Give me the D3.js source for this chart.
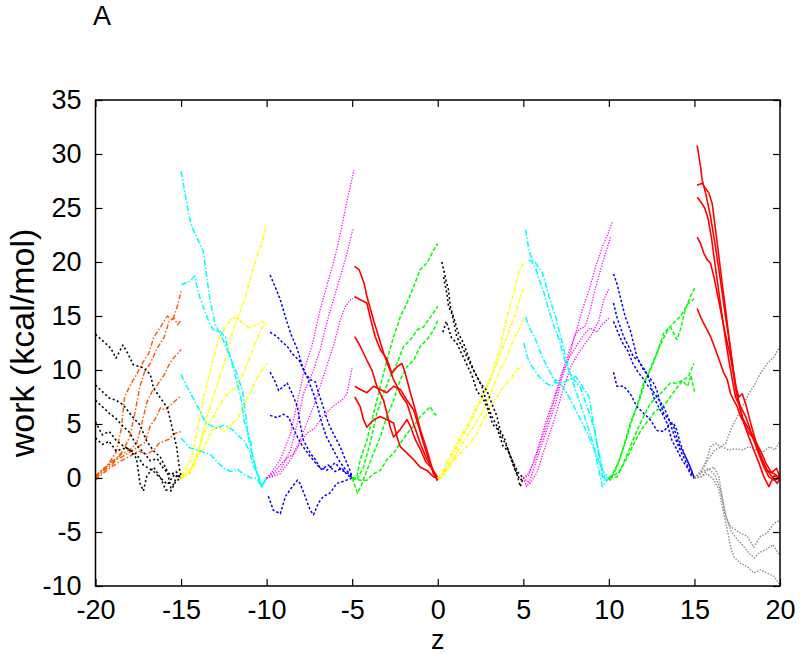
<!DOCTYPE html>
<html><head><meta charset="utf-8">
<script src="https://cdn.jsdelivr.net/npm/d3@7"></script>
<style>
body{margin:0;background:#fff}
svg{display:block}
text{font-family:"Liberation Sans",Arial,Helvetica,sans-serif;fill:#000}
</style>
</head><body>
<svg id="chart" width="800" height="654"></svg>
<script>
// ---------- labels / ticks ----------
const panelLabel = "A";
const xLabel = "z";
const yLabel = "work (kcal/mol)";
const xTicks = [-20,-15,-10,-5,0,5,10,15,20];
const yTicks = [-10,-5,0,5,10,15,20,25,30,35];

// ---------- data: each run is a list of [z, work] ----------
// window [-20,-15]
const orangeRuns = [
 [[-20,0],[-19.6,0.6],[-19.2,1.4],[-18.8,2.4],[-18.5,4.5],[-18.3,7.5],[-18,8.5],[-17.6,9.6],[-17.2,10.8],[-16.9,11.5],[-16.6,13],[-16.2,14],[-15.8,15],[-15.5,14.6],[-15.2,16],[-15,17.3]],
 [[-20,0.2],[-19.6,0.8],[-19.2,1.2],[-18.8,1.8],[-18.4,2.5],[-18,3.8],[-17.7,6],[-17.4,8.5],[-17.1,10],[-16.8,10.6],[-16.4,12],[-16,13],[-15.7,14.5],[-15.4,14.8],[-15.2,14.2],[-15,14.6]],
 [[-20,0],[-19.5,0.7],[-19,1.3],[-18.5,2.2],[-18,2.6],[-17.6,3.2],[-17.3,5],[-17,7],[-16.7,8],[-16.4,8.6],[-16,9.5],[-15.7,10.5],[-15.4,11.2],[-15.2,11.5],[-15,11.9]],
 [[-20,0.1],[-19.5,0.9],[-19,1.6],[-18.5,1.9],[-18,2.4],[-17.5,2.9],[-17.1,3.3],[-16.8,4.8],[-16.5,5.5],[-16.2,6.5],[-15.9,6.3],[-15.6,6.8],[-15.3,7.2],[-15,7.6]],
 [[-20,-0.2],[-19.5,0.5],[-19,1.1],[-18.5,1.6],[-18,2],[-17.5,2.5],[-17,2.2],[-16.6,2.6],[-16.3,3.2],[-16,3.4],[-15.7,3.6],[-15.4,4.1],[-15,4.3]]
];
const blackRunsA = [
 [[-20,13.3],[-19.5,12.6],[-19.1,12],[-18.8,11.1],[-18.4,12.3],[-18.1,11.5],[-17.8,10.5],[-17.2,10.2],[-16.8,9.6],[-16.6,8.3],[-16.2,7.4],[-15.8,6.5],[-15.6,5.2],[-15.25,2.8],[-15.1,0.9],[-15,0.2]],
 [[-20,8.6],[-19.6,8.0],[-19.2,7.4],[-18.8,7.2],[-18.4,6.8],[-17.8,5.6],[-17.4,4.9],[-17,3.4],[-16.6,2.5],[-16.2,1.9],[-15.8,0.6],[-15.6,-0.9],[-15.4,-0.5],[-15.25,0.3],[-15,0]],
 [[-20,7.2],[-19.6,6.6],[-19.2,6],[-18.8,5.5],[-18.4,4.8],[-18,4.2],[-17.6,3],[-17.2,2.4],[-16.8,1.6],[-16.4,1.8],[-16,0.8],[-15.6,0.3],[-15.3,0.6],[-15,0]],
 [[-20,5.2],[-19.6,4],[-19.2,4.3],[-18.8,3.5],[-18.4,3.0],[-18,2.6],[-17.6,1.8],[-17.4,-0.5],[-17.2,-1.2],[-17,0.2],[-16.6,1],[-16.2,0],[-15.8,-0.6],[-15.4,0.3],[-15,0]],
 [[-20,3.7],[-19.6,3.1],[-19.2,3.4],[-18.8,2.5],[-18.2,2.8],[-17.6,2.2],[-17.2,1.2],[-16.6,0.6],[-16.2,0],[-15.9,-1.1],[-15.6,-1.2],[-15.3,-0.3],[-15,0]]
];
// window [-15,-10]
const cyanRunsA = [
 [[-15,28.4],[-14.5,24],[-14.3,23],[-13.7,21],[-13.4,17.5],[-13.3,16.4],[-13,14.2],[-12.6,13],[-12.1,11.1],[-11.7,9.5],[-11.4,8],[-11.2,5.6],[-11.1,4],[-10.9,2.5],[-10.6,0.6],[-10.3,-0.8],[-10,0]],
 [[-15,17.9],[-14.5,18.2],[-14.2,18.7],[-14.1,17.9],[-13.9,16.7],[-13.6,15.4],[-13.3,14.2],[-13.1,13.7],[-12.7,13.6],[-12.4,13],[-12.3,12.1],[-12.1,11.1],[-11.9,9.9],[-11.7,8.6],[-11.5,7.4],[-11.3,5.2],[-11.1,4.3],[-10.9,3.1],[-10.8,1.9],[-10.5,0.3],[-10.3,-0.8],[-10,0]],
 [[-15,9.6],[-14.7,8.6],[-14.3,7.4],[-13.9,6.2],[-13.6,5.2],[-13.3,4.9],[-12.9,4.6],[-12.5,4.9],[-12.1,4.6],[-11.7,4],[-11.3,3.4],[-11,2.5],[-10.8,1.2],[-10.5,0.3],[-10.3,-0.8],[-10,0]],
 [[-15,3.7],[-14.5,2.8],[-13.9,2.5],[-13.3,2.2],[-12.9,1.5],[-12.5,0.9],[-12.1,0.6],[-11.7,0.8],[-11.3,0.3],[-10.9,0],[-10.6,0],[-10.3,-0.8],[-10,0]]
];
const yellowRunsA = [
 [[-15,0],[-14.5,0.4],[-14.1,1.6],[-13.9,3],[-13.7,4.4],[-13.5,5.6],[-13.2,7.1],[-12.9,8.6],[-12.5,10.5],[-12.2,12.3],[-11.9,14],[-11.6,15.2],[-11.3,16.4],[-10.9,18.8],[-10.6,20.4],[-10.3,21.6],[-10.1,22.8],[-10,23.6]],
 [[-15,0],[-14.4,1.8],[-14,4.9],[-13.6,8],[-13.2,10.5],[-12.8,12.9],[-12.3,14.2],[-12,14.8],[-11.7,14.9],[-11.4,14.3],[-11,13.9],[-10.6,14.2],[-10.3,14.5],[-10,14.2]],
 [[-15,0.1],[-14.4,0.9],[-14,2.5],[-13.7,4],[-13.3,5.2],[-12.9,6.3],[-12.5,7.4],[-12.1,8],[-11.7,8.6],[-11.3,9.9],[-10.9,11.5],[-10.6,12.7],[-10.3,13.9],[-10,14.1]],
 [[-15,-0.1],[-14.5,0.6],[-14.1,1.8],[-13.6,3.0],[-13.2,4.4],[-12.8,4.8],[-12.5,4.3],[-12.1,4.9],[-11.7,5.5],[-11.3,6.8],[-10.9,8.2],[-10.5,9.4],[-10.2,10.1],[-10,10.6]]
];
// window [-10,-5]
const blueRunsA = [
 [[-9.8,18.8],[-9.5,17.7],[-9.2,16.5],[-8.9,14.9],[-8.6,13.4],[-8.2,11.9],[-7.9,10.3],[-7.75,9.7],[-7.45,9.1],[-7.15,8.9],[-6.95,7.8],[-6.7,6.6],[-6.4,5.1],[-6.1,4.1],[-5.7,2.9],[-5.4,1.7],[-5.2,1],[-5,0.1]],
 [[-9.8,13.5],[-9.4,13.1],[-9.1,12.6],[-8.8,12.2],[-8.5,11.5],[-8.1,10.9],[-7.9,10.2],[-7.65,9.4],[-7.26,7.8],[-6.97,6.3],[-6.78,5.1],[-6.5,3.8],[-6.2,2.9],[-5.8,1.7],[-5.5,1],[-5.1,0.3],[-5,0]],
 [[-9.8,9.8],[-9.55,9.1],[-9.3,8.1],[-9,8.5],[-8.8,8.8],[-8.5,7.8],[-8.2,6.6],[-8.05,5.1],[-7.85,3.5],[-7.45,2.3],[-7.15,1.7],[-6.9,1],[-6.5,0.7],[-6,1.4],[-5.6,0.7],[-5.2,0.4],[-5,0]],
 [[-9.8,5.8],[-9.4,5.6],[-9,5.9],[-8.7,5.6],[-8.5,4.8],[-8.2,3.8],[-8,3.2],[-7.6,2.3],[-7.2,1.5],[-6.8,0.8],[-6.4,1.2],[-6,0.6],[-5.6,0.9],[-5.3,0.3],[-5,0]],
 [[-9.9,-1.7],[-9.6,-3],[-9.2,-3.3],[-8.9,-1.7],[-8.5,-0.8],[-8.2,-0.2],[-8.05,-0.5],[-7.75,-1.7],[-7.45,-3],[-7.26,-3.4],[-6.97,-2.3],[-6.68,-1.7],[-6.3,-1.4],[-5.9,-0.5],[-5.5,-0.3],[-5,0]]
];
const magentaRunsA = [
 [[-10,0],[-9.8,0.3],[-9.2,1.7],[-8.6,4.1],[-8.1,7.8],[-7.75,10.3],[-7.36,12.2],[-6.87,15.6],[-6.5,17.7],[-6,20.5],[-5.6,23.3],[-5.3,25.7],[-5.02,27.6],[-4.9,28.5]],
 [[-10,0],[-9.8,0.1],[-9.2,0.7],[-8.6,2.6],[-8.2,5.1],[-7.85,7.8],[-7.26,10],[-6.87,11.9],[-6.5,14.3],[-6.1,16.5],[-5.7,18.6],[-5.3,20.8],[-5.02,22.7],[-4.93,23.1]],
 [[-10,0],[-9.7,0.1],[-9.2,0.4],[-8.6,1.7],[-8.05,3.5],[-7.65,5.1],[-7.26,6.6],[-6.87,8.5],[-6.5,10.3],[-6.1,12.2],[-5.7,14.6],[-5.4,15.9],[-5.1,16.5],[-4.95,16.6]],
 [[-10,0],[-9.6,0.5],[-9.2,1.2],[-8.8,1.9],[-8.4,2.2],[-8,3.4],[-7.6,4.2],[-7.2,4.6],[-6.8,5.5],[-6.4,6.2],[-6,6.8],[-5.6,7.2],[-5.3,7.8],[-5.1,9.5],[-5,10.2]]
];
// window [-5,0]
const redRunsA = [
 [[-4.87,19.6],[-4.6,19.3],[-4.3,18.0],[-4.14,16.8],[-3.75,14.6],[-3.46,13.1],[-3.17,11.6],[-2.87,10.3],[-2.58,9.1],[-2.38,8.5],[-2.19,7.8],[-1.8,6.9],[-1.41,5.0],[-1.02,3.2],[-0.63,1.7],[-0.34,1.0],[-0.04,-0.2],[0,0]],
 [[-4.87,16.8],[-4.53,16.5],[-4.14,16.2],[-3.95,14.9],[-3.66,13.1],[-3.36,11.9],[-2.97,11.0],[-2.68,9.7],[-2.38,10.3],[-2.09,10.6],[-1.9,9.7],[-1.6,7.9],[-1.31,6.3],[-1.02,4.5],[-0.63,2.6],[-0.24,0.4],[0,-0.2]],
 [[-4.85,13.1],[-4.53,12.2],[-4.14,10.9],[-3.85,10],[-3.56,8.5],[-3.17,7.2],[-2.97,6],[-2.78,4.7],[-2.58,3.8],[-2.19,4.5],[-1.8,5.4],[-1.6,4.8],[-1.3,3.5],[-1.0,2.6],[-0.7,1.5],[-0.4,1.0],[-0.1,0.3],[0,0]],
 [[-4.85,8.5],[-4.53,8.2],[-4.14,7.9],[-3.75,8.5],[-3.36,8.2],[-2.97,7.9],[-2.58,8.5],[-2.19,8.2],[-1.8,7.2],[-1.41,6.3],[-1.12,4.8],[-0.83,3.2],[-0.53,1.7],[-0.24,0.4],[0,0]],
 [[-4.85,7.5],[-4.53,6.6],[-4.34,5.4],[-4.14,4.7],[-3.75,5.4],[-3.36,5.7],[-2.97,5.4],[-2.58,5.1],[-2.38,3.8],[-2.19,2.9],[-1.8,2.3],[-1.41,1.7],[-1.02,1.0],[-0.63,0.7],[-0.24,0.1],[0,0]]
];
const greenRunsA = [
 [[-5,0],[-4.74,0],[-4.53,1.7],[-4.14,3.5],[-3.75,6],[-3.36,8.5],[-2.97,10.9],[-2.58,13.1],[-2.19,14.9],[-1.8,16.2],[-1.41,17.7],[-1.02,19.3],[-0.63,19.9],[-0.24,21.1],[0,21.7]],
 [[-5,0],[-4.74,-0.2],[-4.34,1],[-3.95,3.2],[-3.56,6],[-3.17,7.8],[-2.78,9.4],[-2.38,10.6],[-1.99,12.2],[-1.6,12.8],[-1.21,13.7],[-0.83,14],[-0.43,14.9],[0,15.9]],
 [[-5,0],[-4.7,-1.4],[-4.5,-0.8],[-4.14,0.7],[-3.75,2.3],[-3.36,3.8],[-2.97,5.7],[-2.58,7.2],[-2.19,9.1],[-1.8,10.3],[-1.41,10.9],[-1.02,12.2],[-0.63,12.8],[-0.24,13.7],[0,14.6]],
 [[-5,0],[-4.53,-0.2],[-4.14,-0.2],[-3.75,0.4],[-3.36,0.7],[-2.97,1.7],[-2.58,2.3],[-2.19,3.2],[-1.8,4.1],[-1.41,4.8],[-1.02,5.7],[-0.63,6.3],[-0.43,6.6],[-0.24,6],[0,5.7]]
];
// window [0,5]
const blackRunsB = [
 [[0.24,20],[0.44,18.6],[0.63,17.4],[0.73,15.9],[0.92,14.9],[1.21,13.4],[1.5,12.5],[1.8,11.2],[2.09,10],[2.48,8.8],[2.87,8.1],[3.16,6.9],[3.46,5.7],[3.65,4.4],[3.94,3.5],[4.23,2],[4.52,0.7],[4.82,-0.2],[5,0]],
 [[0.34,18.6],[0.53,17.1],[0.63,15.9],[0.83,15.2],[1.11,13.1],[1.5,11.9],[1.89,10.6],[2.28,9.4],[2.58,8.5],[2.87,6.9],[3.16,5.7],[3.46,4.8],[3.75,3.8],[4.04,2.9],[4.33,1.7],[4.62,0.4],[4.82,-0.8],[5,0]],
 [[0.3,13.5],[0.5,14.5],[0.8,13],[1.1,12.5],[1.4,11.5],[1.7,10.5],[2,9.5],[2.3,8],[2.6,7.5],[2.9,6.5],[3.2,5],[3.5,4.5],[3.8,3],[4.1,2.5],[4.4,1.5],[4.7,0.5],[5,0]]
];
const yellowRunsB = [
 [[0,0],[0.15,0.1],[0.53,1.4],[0.92,2.6],[1.31,3.8],[1.7,4.8],[2.09,6],[2.48,7.2],[2.87,8.5],[3.26,10],[3.65,12.2],[4.04,14.9],[4.43,17.1],[4.72,19],[5.0,19.9]],
 [[0,0],[0.3,0.4],[0.7,1.5],[1.1,2.8],[1.5,4],[1.9,5.2],[2.3,6.5],[2.7,7.6],[3.1,9.2],[3.5,10.8],[3.9,12.5],[4.3,14.2],[4.6,15.5],[4.85,16.8],[5,17.5]],
 [[0,0],[0.15,0.1],[0.53,0.7],[0.92,1.7],[1.31,2.9],[1.7,3.8],[2.09,4.8],[2.48,5.7],[2.87,6.9],[3.26,8.5],[3.65,10],[4.04,11.2],[4.43,12.8],[4.82,14],[5.0,14.8]],
 [[0,0],[0.24,0],[0.63,1],[1.11,2],[1.5,2.6],[1.89,3.2],[2.28,4.1],[2.67,5.4],[3.06,6.6],[3.46,7.5],[3.85,8.5],[4.23,9.1],[4.62,10],[5.0,10.5]]
];
// window [5,10]
const cyanRunsB = [
 [[5.13,23],[5.33,21.1],[5.52,20.2],[5.72,19.9],[6.11,19],[6.3,18],[6.5,16.8],[6.89,14.9],[7.08,13.7],[7.28,12.5],[7.47,11.2],[7.67,10],[8.06,8.1],[8.45,6.3],[8.84,4.4],[9.13,2.9],[9.32,1.4],[9.62,-0.8],[10,0]],
 [[5.33,20.2],[5.5,20],[5.7,19.5],[5.9,18.5],[6.2,17.2],[6.5,15.5],[6.8,14],[7.1,12.8],[7.4,11],[7.7,9.8],[8,9],[8.3,8.5],[8.6,7.2],[8.9,5.8],[9.2,4.2],[9.4,2.5],[9.6,1],[9.8,-0.3],[10,0]],
 [[5.13,14.9],[5.33,14],[5.72,12.8],[6.11,11.2],[6.5,10],[6.89,8.8],[7.28,8.8],[7.67,9.1],[8.06,9.4],[8.45,8.5],[8.84,7.5],[9.03,5.7],[9.23,3.8],[9.42,2],[9.62,0.1],[10,0]],
 [[5.03,12.5],[5.23,11.2],[5.52,10.3],[5.91,9.4],[6.3,8.8],[6.69,8.5],[6.89,9.1],[7.28,8.5],[7.67,7.5],[8.06,6.3],[8.45,5.1],[8.84,3.8],[9.23,2.3],[9.62,0.7],[10,0]]
];
const magentaRunsB = [
 [[5,0],[5.2,-0.8],[5.33,-0.5],[5.72,1.4],[6.11,3.2],[6.5,5.1],[6.89,6.9],[7.28,9.4],[7.67,11.2],[8.06,13.4],[8.45,15.6],[8.84,17.4],[9.23,19.6],[9.62,21.4],[10,22.8],[10.2,23.7]],
 [[5,0],[5.3,0.2],[5.6,1.5],[6,3.5],[6.4,5.6],[6.8,7.4],[7.2,9.5],[7.6,11.3],[8,13.2],[8.3,13.8],[8.6,14],[8.9,15.5],[9.2,17.5],[9.5,19.2],[9.8,20.8],[10.1,22.3]],
 [[5,0],[5.3,0.4],[5.7,1.8],[6.1,3.7],[6.5,5.6],[6.9,7.7],[7.3,9.8],[7.7,11.2],[8.1,12.2],[8.5,13.2],[8.9,13.9],[9.3,13.5],[9.6,14.2],[10,14.8]],
 [[5,0],[5.4,-0.5],[5.8,0.5],[6.2,2.5],[6.6,4.4],[7,6.4],[7.4,8.6],[7.8,10.4],[8.2,11.5],[8.6,12.4],[9,13.3],[9.4,14.5],[9.7,16.5],[10,17.5]]
];
// window [10,15]
const blueRunsB = [
 [[10.27,18.9],[10.47,18],[10.66,16.8],[10.96,14.9],[11.25,13.7],[11.44,12.5],[11.64,11.2],[11.83,10.6],[12.12,10],[12.42,8.8],[12.61,7.5],[12.9,6.6],[13.1,6],[13.39,5.1],[13.68,3.5],[13.98,2.6],[14.27,1.7],[14.56,1],[14.86,0.1],[15,0]],
 [[10.27,16.2],[10.47,14.9],[10.66,14],[10.86,13.1],[11.15,12.2],[11.44,11.2],[11.73,10.9],[12.03,10],[12.32,9.4],[12.61,8.8],[12.81,8.1],[13,6.9],[13.2,6],[13.49,5.4],[13.78,4.8],[14.08,3.2],[14.37,2.3],[14.66,1.4],[14.96,0.1],[15,0]],
 [[10.27,14.5],[10.5,13.6],[10.8,12.5],[11.1,11.8],[11.4,10.6],[11.7,9.8],[12,9.2],[12.3,8.5],[12.6,8],[12.9,7.3],[13.2,6.6],[13.5,5.5],[13.8,4],[14.1,2.8],[14.4,1.8],[14.7,0.8],[15,0]],
 [[10.27,9.8],[10.47,8.5],[10.86,8.5],[11.25,7.8],[11.64,6.6],[12.03,6],[12.42,5.4],[12.81,4.4],[13.2,4.3],[13.59,5.1],[13.78,5.1],[13.98,4.4],[14.17,3.2],[14.47,2],[14.76,1],[15,0]]
];
const greenRunsB = [
 [[10,0],[10.08,-0.2],[10.47,1],[10.86,2.9],[11.25,5.1],[11.64,6.6],[12.03,8.8],[12.42,10],[12.81,11.5],[13.2,13.4],[13.59,14],[13.98,12.8],[14.17,13.7],[14.47,15.6],[14.76,16.8],[15.05,17.7]],
 [[10,0],[10.2,0.3],[10.6,1.6],[11,3.5],[11.4,5.6],[11.8,7.3],[12.2,9.3],[12.6,10.8],[13,12.3],[13.4,13.6],[13.8,14.4],[14.2,15],[14.6,16.1],[15,16.6]],
 [[10,0],[10.08,0],[10.47,0.1],[10.86,1.4],[11.25,2.9],[11.64,4.4],[12.03,5.7],[12.42,6.9],[12.81,7.5],[13.2,8.1],[13.59,8.8],[13.98,8.8],[14.37,9.1],[14.66,9.4],[14.96,10.6]],
 [[10,0],[10.3,0.2],[10.7,0.8],[11.1,2],[11.5,3.3],[11.9,4.5],[12.3,5.3],[12.7,6.2],[13.1,6.5],[13.5,7.3],[13.9,8.2],[14.3,9],[14.6,8.5],[14.8,9.5],[15,8]]
];
// window [15,20]
const grayRuns = [
 [[15,0],[15.36,0.4],[15.65,1.4],[15.94,2.9],[16.23,3.2],[16.52,2.9],[16.82,3.2],[17.11,4.4],[17.5,5.7],[17.89,6.9],[18.18,7.8],[18.57,8.8],[18.86,9.7],[19.25,10.6],[19.65,11.2],[20,12.2]],
 [[15,0],[15.4,0.7],[15.8,1.7],[16.2,2.6],[16.6,2.9],[17,2.6],[17.4,2.7],[17.8,2.6],[18.2,2.9],[18.6,2.6],[19,2.4],[19.4,2.9],[19.7,2.6],[20,3.4]],
 [[15,0],[15.36,0.1],[15.75,0.7],[16.14,1],[16.43,0.1],[16.62,-1.7],[16.82,-3.6],[17.11,-4.5],[17.4,-4.8],[17.69,-5.1],[18.08,-5.4],[18.47,-6.4],[18.86,-5.4],[19.25,-5.1],[19.65,-4.2],[20,-3.9]],
 [[15,0],[15.4,0.5],[15.8,0.9],[16.2,0.3],[16.5,-1],[16.8,-3.2],[17.1,-4.8],[17.4,-5.5],[17.8,-6.2],[18.1,-6.8],[18.5,-7.4],[18.8,-6.9],[19.2,-6.6],[19.6,-6.2],[20,-7.2]],
 [[15,0],[15.36,0.1],[15.75,0.4],[16.14,-0.2],[16.43,-1.1],[16.72,-3.3],[16.92,-4.8],[17.11,-6.4],[17.3,-7.3],[17.69,-7.9],[18.08,-8.2],[18.47,-8.8],[18.86,-8.5],[19.25,-8.8],[19.65,-9.1],[19.94,-9.8]]
];
const redRunsB = [
 [[15.16,30.8],[15.36,28.8],[15.45,27.6],[15.65,26.4],[15.94,24.2],[16.23,21.4],[16.52,18.3],[16.82,14.9],[17.11,11.9],[17.3,9.7],[17.5,7.8],[17.69,6.3],[17.89,5.1],[18.18,3.8],[18.47,2.6],[18.77,1.4],[19.06,0.1],[19.35,-0.8],[19.65,0.2],[20,0]],
 [[15.16,27.1],[15.45,27.3],[15.65,26.8],[15.84,26.4],[16.04,25.4],[16.23,23],[16.43,20.5],[16.62,18],[16.82,15.6],[17.01,13.1],[17.21,10.6],[17.4,8.5],[17.6,7.5],[17.79,7.8],[17.99,6.9],[18.28,5.1],[18.57,3.5],[18.86,2],[19.25,0.7],[19.65,0.4],[20,0]],
 [[15.16,26],[15.4,25.5],[15.6,25],[15.8,24],[16,22.2],[16.2,19.8],[16.4,17.5],[16.6,15.2],[16.8,13],[17,11],[17.2,9.2],[17.4,7.5],[17.6,6.8],[17.8,5.6],[18,5],[18.3,4.2],[18.6,3.3],[18.9,2.4],[19.2,1.3],[19.5,0.5],[19.8,0.9],[20,0]],
 [[15.16,22.3],[15.36,21.7],[15.55,20.8],[15.75,20.2],[15.94,19.9],[16.14,18.6],[16.33,17.1],[16.52,15.6],[16.72,14],[16.92,12.5],[17.11,11.2],[17.3,9.4],[17.5,7.5],[17.69,6.6],[17.99,5.7],[18.28,4.4],[18.67,2.6],[19.06,1],[19.35,0.1],[19.65,-0.2],[20,0]],
 [[15.16,15.7],[15.36,14.9],[15.55,14.3],[15.75,13.7],[15.94,13.1],[16.23,11.9],[16.52,10.6],[16.72,9.7],[16.92,9.1],[17.11,7.8],[17.3,7.2],[17.5,6.6],[17.69,5.7],[17.89,5.1],[18.08,4.4],[18.38,3.8],[18.67,2.9],[18.96,1.7],[19.25,0.7],[19.55,0.1],[19.84,-0.5],[20,0]]
];

// ---------- styles ----------
const C = {orange:"#ff5500", black:"#000000", cyan:"#00ffff", yellow:"#ffff00", blue:"#0000ff",
           magenta:"#ff00ff", red:"#ff0000", green:"#00ff00", gray:"#8c8c8c"};
const groups = [
 {runs: orangeRuns,   color: C.orange,  dash: "5,2,1.5,2", w: 1.4},
 {runs: blackRunsA,   color: C.black,   dash: "2,2.5",     w: 1.6},
 {runs: yellowRunsA,  color: C.yellow,  dash: "4,1.5,1.5,1.5", w: 1.5},
 {runs: cyanRunsA,    color: C.cyan,    dash: "6,2,1.5,2", w: 1.5},
 {runs: magentaRunsA, color: C.magenta, dash: "1.2,1.5",   w: 1.3},
 {runs: blueRunsA,    color: C.blue,    dash: "2.5,2",     w: 1.5},
 {runs: greenRunsA,   color: C.green,   dash: "4,2",       w: 1.5},
 {runs: redRunsA,     color: C.red,     dash: null,        w: 1.6},
 {runs: yellowRunsB,  color: C.yellow,  dash: "4,1.5,1.5,1.5", w: 1.5},
 {runs: blackRunsB,   color: C.black,   dash: "2,2.5",     w: 1.6},
 {runs: magentaRunsB, color: C.magenta, dash: "1.2,1.5",   w: 1.3},
 {runs: cyanRunsB,    color: C.cyan,    dash: "6,2,1.5,2", w: 1.5},
 {runs: greenRunsB,   color: C.green,   dash: "4,2",       w: 1.5},
 {runs: blueRunsB,    color: C.blue,    dash: "2.5,2",     w: 1.5},
 {runs: grayRuns,     color: C.gray,    dash: "1.5,1.5",   w: 1.4},
 {runs: redRunsB,     color: C.red,     dash: null,        w: 1.6}
];

// ---------- drawing ----------
const svg = d3.select("#chart");
const L = 95.5, R = 780, T = 100, B = 586;
const x = d3.scaleLinear().domain([-20,20]).range([L,R]);
const y = d3.scaleLinear().domain([-10,35]).range([B,T]);
const fs = 27;

const plot = svg.append("g");
plot.append("defs").append("clipPath").attr("id","clip")
  .append("rect").attr("x",L).attr("y",T).attr("width",R-L).attr("height",B-T);
const lines = plot.append("g").attr("clip-path","url(#clip)");
const lineGen = d3.line().x(d=>x(d[0])).y(d=>y(d[1]));
groups.forEach(g=>{
  lines.append("g").selectAll("path").data(g.runs).join("path")
    .attr("d", lineGen)
    .attr("fill","none")
    .attr("stroke", g.color)
    .attr("stroke-width", g.w)
    .attr("stroke-dasharray", g.dash)
    .attr("stroke-linejoin","round");
});

function styleAxis(sel){
  sel.select(".domain").remove();
  sel.selectAll(".tick line").attr("stroke","#000").attr("stroke-width",1.2);
  sel.selectAll("text").attr("font-size",fs).attr("font-family",'"Liberation Sans",Arial,sans-serif').attr("fill","#000");
}
svg.append("g").attr("transform",`translate(0,${B})`)
  .call(d3.axisBottom(x).tickValues(xTicks).tickSize(-7).tickPadding(14).tickFormat(d3.format("d")))
  .call(styleAxis);
svg.append("g").attr("transform",`translate(0,${T})`)
  .call(d3.axisTop(x).tickValues(xTicks).tickSize(-7).tickFormat(""))
  .call(styleAxis);
svg.append("g").attr("transform",`translate(${L},0)`)
  .call(d3.axisLeft(y).tickValues(yTicks).tickSize(-7).tickPadding(14).tickFormat(d3.format("d")))
  .call(styleAxis);
svg.append("g").attr("transform",`translate(${R},0)`)
  .call(d3.axisRight(y).tickValues(yTicks).tickSize(-7).tickFormat(""))
  .call(styleAxis);
svg.selectAll(".tick text").text(function(){return d3.select(this).text().replace("\u2212","-");});

svg.append("rect").attr("x",L).attr("y",T).attr("width",R-L).attr("height",B-T)
  .attr("fill","none").attr("stroke","#000").attr("stroke-width",1.5);

svg.append("text").attr("x",(L+R)/2).attr("y",649).attr("text-anchor","middle")
  .attr("font-size",fs).text(xLabel);
svg.append("text").attr("transform",`translate(34,${(T+B)/2}) rotate(-90)`)
  .attr("text-anchor","middle").attr("font-size",34).text(yLabel);
svg.append("text").attr("x",93).attr("y",25).attr("font-size",fs).text(panelLabel);
</script>
</body></html>
